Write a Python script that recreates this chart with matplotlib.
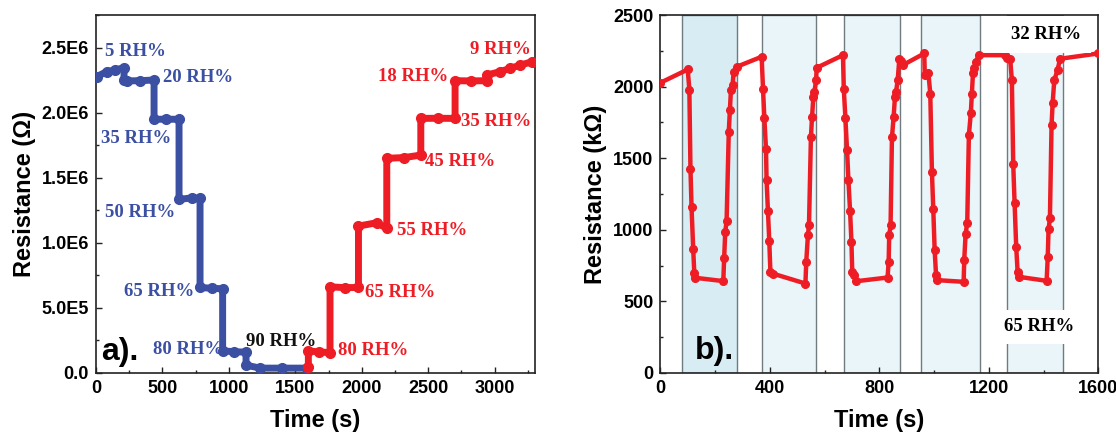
import matplotlib
matplotlib.use("Agg")
import matplotlib.pyplot as plt
from matplotlib.ticker import MultipleLocator, FixedLocator, FixedFormatter

# ---------------- data: panel a ----------------
blue_t = [5, 80, 143, 211, 211, 231, 330, 437, 437, 530, 625, 625, 720, 783,
          783, 870, 953, 953, 1040, 1129, 1129, 1234, 1400, 1586]
blue_r = [2.277e6, 2.315e6, 2.328e6, 2.346e6, 2.251e6, 2.244e6, 2.246e6, 2.251e6,
          1.949e6, 1.950e6, 1.949e6, 1.333e6, 1.345e6, 1.341e6,
          0.656e6, 0.650e6, 0.646e6, 0.169e6, 0.162e6, 0.159e6,
          0.059e6, 0.036e6, 0.036e6, 0.036e6]
red_t = [1598, 1598, 1680, 1761, 1761, 1870, 1975, 1975, 2113, 2188, 2188, 2320, 2444,
         2444, 2570, 2702, 2702, 2820, 2940, 2942, 3041, 3116, 3191, 3282]
red_r = [0.041e6, 0.169e6, 0.160e6, 0.156e6, 0.661e6, 0.655e6, 0.656e6, 1.128e6,
         1.154e6, 1.110e6, 1.649e6, 1.655e6, 1.674e6, 1.956e6, 1.957e6, 1.956e6,
         2.246e6, 2.244e6, 2.246e6, 2.290e6, 2.315e6, 2.341e6, 2.365e6, 2.392e6]

a_labels = ["5 RH%", "20 RH%", "35 RH%", "50 RH%", "65 RH%", "80 RH%", "90 RH%",
            "80 RH%", "65 RH%", "55 RH%", "45 RH%", "35 RH%", "18 RH%", "9 RH%"]
a_label_t = [294, 770, 301, 331, 477, 695, 1390, 2088, 2288, 2529, 2740, 3010, 2384, 3040]
a_label_r = [2.474e6, 2.272e6, 1.803e6, 1.233e6, 0.623e6, 0.182e6, 0.238e6,
             0.169e6, 0.618e6, 1.097e6, 1.623e6, 1.929e6, 2.277e6, 2.487e6]
a_label_c = ["blue", "blue", "blue", "blue", "blue", "blue", "black",
             "red", "red", "red", "red", "red", "red", "red"]

a_yticks = [0, 5e5, 1e6, 1.5e6, 2e6, 2.5e6]
a_yticklabels = ["0.0", "5.0E5", "1.0E6", "1.5E6", "2.0E6", "2.5E6"]

# ---------------- data: panel b ----------------
b_t = [0, 100, 106, 110, 114, 120, 124, 128, 230, 233, 237, 242, 250, 254, 258, 264, 268,
       279, 370,
       375, 380, 386, 388, 393, 398, 402, 410, 530, 533, 539, 543, 550, 554, 559, 563, 569,
       571, 667,
       670, 676, 682, 687, 693, 698, 701, 709, 715, 830, 834, 836, 841, 846, 852, 857, 861,
       867, 873, 879, 885, 964,
       966, 979, 986, 992, 997, 1002, 1007, 1009, 1108, 1110, 1115, 1121, 1127, 1134, 1138,
       1142, 1147, 1153, 1163, 1260,
       1265, 1278, 1284, 1289, 1294, 1300, 1305, 1309, 1411, 1415, 1418, 1423, 1429, 1433,
       1439, 1451, 1460, 1600]
b_r = [2027, 2120, 1980, 1428, 1156, 867, 699, 664, 641, 799, 981, 1060, 1685, 1834, 1980,
       2015, 2104, 2139, 2209,
       1987, 1778, 1561, 1347, 1132, 918, 706, 694, 624, 776, 960, 1032, 1645, 1785, 1929,
       1964, 2046, 2132, 2220,
       1987, 1778, 1556, 1347, 1132, 916, 706, 683, 640, 666, 776, 960, 1030, 1645, 1785,
       1929, 1964, 2046, 2195, 2181, 2150, 2232,
       2081, 2097, 1952, 1405, 1142, 857, 687, 648, 636, 788, 969, 1048, 1661, 1813, 1952,
       2097, 2127, 2174, 2220, 2220,
       2197, 2190, 2046, 1459, 1184, 876, 706, 671, 643, 806, 1002, 1079, 1731, 1887, 2046,
       2116, 2195, 2232]

box_start = [80, 372, 672, 952, 1267]
box_end = [280, 570, 875, 1168, 1472]

# ---------------- style ----------------
BLUE = "#3b4fa3"
RED = "#ee1d25"
cmap = {"blue": BLUE, "red": RED, "black": "#111111"}
SANS = "Liberation Sans"
SERIF = "Liberation Serif"

fig = plt.figure(figsize=(11.16, 4.32), dpi=100)
ax1 = fig.add_axes([0.086, 0.137, 0.393, 0.828])
ax2 = fig.add_axes([0.5917, 0.137, 0.3925, 0.828])

def style_axis(ax):
    for s in ax.spines.values():
        s.set_linewidth(1.2)
        s.set_color("#222222")
    ax.tick_params(which="both", direction="in", top=False, right=False,
                   width=1.0, color="#222222")
    ax.tick_params(which="major", length=4.5, pad=5, labelsize=13)
    ax.tick_params(which="minor", length=2.5)
    for lab in ax.get_xticklabels() + ax.get_yticklabels():
        lab.set_fontfamily(SANS)
        lab.set_fontweight("bold")

# ---- panel a ----
for t, r, col in ((blue_t, blue_r, BLUE), (red_t, red_r, RED)):
    ax1.plot(t, r, color=col, lw=5, marker="o", ms=7, solid_capstyle="round",
             solid_joinstyle="round", zorder=3)
ax1.set_xlim(0, 3300)
ax1.set_ylim(0, 2.75e6)
ax1.xaxis.set_major_locator(MultipleLocator(500))
ax1.xaxis.set_minor_locator(MultipleLocator(250))
ax1.yaxis.set_major_locator(FixedLocator(a_yticks))
ax1.yaxis.set_major_formatter(FixedFormatter(a_yticklabels))
ax1.yaxis.set_minor_locator(MultipleLocator(2.5e5))
style_axis(ax1)
ax1.set_xlabel("Time (s)", fontfamily=SANS, fontweight="bold", fontsize=17, labelpad=9)
ax1.set_ylabel("Resistance (\u03a9)", fontfamily=SANS, fontweight="bold", fontsize=17,
               labelpad=4)
for txt, t, r, c in zip(a_labels, a_label_t, a_label_r, a_label_c):
    ax1.text(t, r, txt, color=cmap[c], fontfamily=SERIF, fontweight="bold",
             fontsize=13.5, ha="center", va="center", zorder=5)
ax1.text(181, 0.16e6, "a).", fontfamily=SANS, fontweight="bold", fontsize=23,
         ha="center", va="center")

# ---- panel b ----
for i, (s, e) in enumerate(zip(box_start, box_end)):
    fc = "#d7ecf3" if i == 0 else "#e9f5f9"
    ax2.axvspan(s, e, facecolor=fc, edgecolor="#6f7b7e", lw=1.0, zorder=1)
ax2.plot(b_t, b_r, color=RED, lw=3.2, marker="o", ms=5.5, solid_joinstyle="round",
         zorder=3)
ax2.set_xlim(0, 1600)
ax2.set_ylim(0, 2500)
ax2.xaxis.set_major_locator(MultipleLocator(400))
ax2.xaxis.set_minor_locator(MultipleLocator(200))
ax2.yaxis.set_major_locator(MultipleLocator(500))
ax2.yaxis.set_minor_locator(MultipleLocator(250))
style_axis(ax2)
ax2.set_xlabel("Time (s)", fontfamily=SANS, fontweight="bold", fontsize=17, labelpad=9)
ax2.set_ylabel("Resistance (k\u03a9)", fontfamily=SANS, fontweight="bold", fontsize=17,
               labelpad=4)
ax2.text(1409, 2365, "32 RH%", fontfamily=SERIF, fontweight="bold", fontsize=13.5,
         ha="center", va="center", zorder=6,
         bbox=dict(facecolor="white", edgecolor="none", pad=7))
ax2.text(1382, 321, "65 RH%", fontfamily=SERIF, fontweight="bold", fontsize=13.5,
         ha="center", va="center", zorder=6,
         bbox=dict(facecolor="white", edgecolor="none", pad=6))
ax2.text(197, 150, "b).", fontfamily=SANS, fontweight="bold", fontsize=23,
         ha="center", va="center", zorder=6)

fig.savefig("out.png", dpi=100)
